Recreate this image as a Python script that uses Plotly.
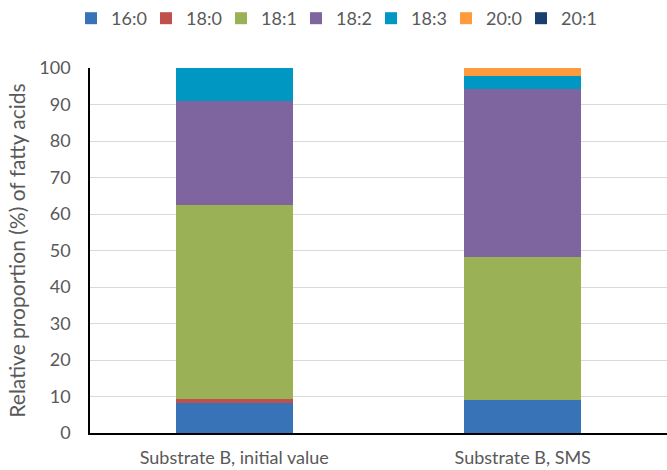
import plotly.graph_objects as go

categories = ["Substrate B, initial value", "Substrate B, SMS"]
series_names = ["16:0", "18:0", "18:1", "18:2", "18:3", "20:0", "20:1"]
v_16_0 = [8.1, 9.1]
v_18_0 = [1.3, 0.0]
v_18_1 = [53.1, 39.2]
v_18_2 = [28.5, 46.0]
v_18_3 = [9.0, 3.6]
v_20_0 = [0.0, 2.1]
v_20_1 = [0.0, 0.0]
values = [v_16_0, v_18_0, v_18_1, v_18_2, v_18_3, v_20_0, v_20_1]
colors = ["#3873B8", "#C0504D", "#9BB155", "#7F659F", "#0097C2", "#FF9B3C", "#1A3F6E"]

fig = go.Figure()
for name, vals, col in zip(series_names, values, colors):
    fig.add_trace(go.Bar(x=categories, y=vals, name=name, marker=dict(color=col, line=dict(width=0))))

font_family = "Lato, Open Sans, sans-serif"
fig.update_layout(
    barmode="stack",
    bargap=0.595,
    width=667, height=470,
    margin=dict(l=90, r=0, t=68, b=37, autoexpand=False),
    paper_bgcolor="white", plot_bgcolor="white",
    font=dict(family=font_family, size=19, color="#595959"),
    legend=dict(orientation="h", x=0.5, xanchor="center", xref="container",
                y=1.0, yanchor="top", yref="container",
                font=dict(size=18, color="#595959"), traceorder="normal",
                itemwidth=30, entrywidthmode="pixels", entrywidth=30),
    showlegend=True,
)
fig.update_yaxes(range=[0, 100], dtick=10, showgrid=True, gridcolor="#D9D9D9", gridwidth=1,
                 showline=True, linecolor="black", linewidth=1.5, ticks="", zeroline=False,
                 ticklabelstandoff=14,
                 title=dict(text="Relative proportion (%) of fatty acids", font=dict(size=21, color="#595959"), standoff=8),
                 tickfont=dict(size=18, color="#595959"))
fig.update_xaxes(showline=True, linecolor="black", linewidth=1.5, ticks="",
                 ticklabelstandoff=8,
                 tickfont=dict(size=18, color="#595959"))
fig.write_html("out.html")
